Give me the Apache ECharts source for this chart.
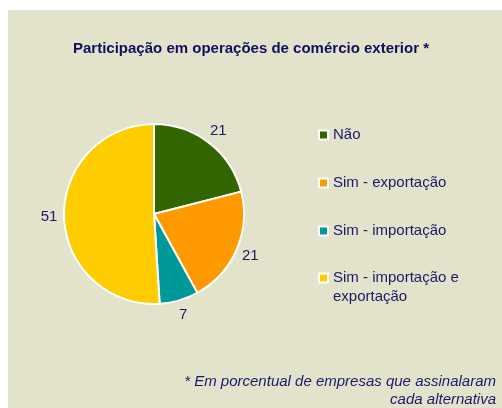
<!DOCTYPE html>
<html>
<head>
<meta charset="utf-8">
<script src="https://cdn.jsdelivr.net/npm/echarts@6/dist/echarts.min.js"></script>
<style>
  html, body { margin: 0; padding: 0; background: #fff; }
  #chart { width: 502px; height: 408px; }
</style>
</head>
<body>
<div id="chart"></div>
<script>
// data (percent of companies)
var categories = ["Não", "Sim - exportação", "Sim - importação", "Sim - importação e exportação"];
var values = [21, 21, 7, 51];
var colors = ["#336600", "#FF9900", "#009999", "#FFCC00"];

var navy = "#1A1A6A";
var font = "Liberation Sans, Arial, sans-serif";

var pieData = categories.map(function (name, i) {
  return { name: name, value: values[i], itemStyle: { color: colors[i] } };
});

function legendItem(i) {
  return { name: categories[i], itemStyle: { color: colors[i] } };
}

var legendBase = {
  orient: "vertical",
  left: 318,
  padding: 0,
  itemWidth: 9,
  itemHeight: 9,
  itemGap: 29,
  icon: "rect",
  itemStyle: { borderColor: "#ffffff", borderWidth: 2 },
  textStyle: { fontFamily: font, fontSize: 15, color: navy, lineHeight: 19 },
  selectedMode: false,
};

var myChart = echarts.init(document.getElementById("chart"));
var option = {
  backgroundColor: "#ffffff",
  animation: false,
  graphic: [
    {
      type: "rect",
      z: -10,
      shape: { x: 8, y: 10, width: 494, height: 398 },
      style: { fill: "#E3E2CA" },
      silent: true,
    },
    {
      type: "text",
      x: 496,
      y: 373,
      silent: true,
      style: {
        text: "* Em porcentual de empresas que assinalaram\ncada alternativa",
        align: "right",
        verticalAlign: "top",
        font: "italic 15px " + font,
        lineHeight: 18,
        fill: navy,
      },
    },
  ],
  title: {
    text: "Participação em operações de comércio exterior *",
    left: "center",
    top: 41,
    padding: 0,
    textStyle: { fontFamily: font, fontSize: 15, fontWeight: "bold", color: "#10105E" },
  },
  legend: [
    Object.assign({}, legendBase, {
      top: 125.5,
      data: [legendItem(0), legendItem(1), legendItem(2)],
    }),
    Object.assign({}, legendBase, {
      top: 249.5,
      // blank first line keeps the square level with "Sim - importação e"
      formatter: function () {
        return " \nSim - importação e\nexportação";
      },
      data: [legendItem(3)],
    }),
  ],
  series: [
    {
      type: "pie",
      center: [154, 214],
      radius: 90,
      startAngle: 90,
      clockwise: true,
      itemStyle: { borderColor: "#ffffff", borderWidth: 2 },
      label: { show: false },
      labelLine: { show: false },
      emphasis: { disabled: true },
      data: pieData,
    },
    {
      // invisible ring only to place the value labels just outside the pie
      type: "pie",
      center: [154, 214],
      radius: [95, 109],
      startAngle: 90,
      clockwise: true,
      silent: true,
      itemStyle: { color: "rgba(0,0,0,0)", borderWidth: 0 },
      label: {
        show: true,
        position: "inside",
        formatter: "{c}",
        fontFamily: font,
        fontSize: 15,
        color: navy,
      },
      labelLine: { show: false },
      emphasis: { disabled: true },
      data: pieData.map(function (d) {
        return { name: d.name, value: d.value };
      }),
    },
  ],
};
myChart.setOption(option);
</script>
</body>
</html>
